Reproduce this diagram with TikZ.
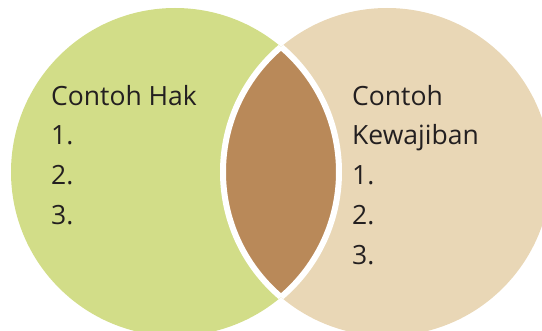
\documentclass[tikz,border=0pt]{standalone}
\usepackage{fontspec}
\setmainfont{Open Sans}
\usetikzlibrary{positioning}
\definecolor{hakgreen}{RGB}{210,221,136}
\definecolor{wajibtan}{RGB}{233,215,182}
\definecolor{lensbrown}{RGB}{185,137,89}
\definecolor{ink}{RGB}{35,31,32}

\begin{document}
\begin{tikzpicture}[
    x=1pt,y=-1pt,
    circ/.style={circle,minimum size=328pt,inner sep=0pt},
    txt/.style={anchor=base west,inner sep=0pt,text=ink,font=\fontsize{26.5}{40}\selectfont},
    border/.style={draw=white,line width=6pt}
    ]
    \useasboundingbox (0,0) rectangle (542,331);
    \clip (0,0) rectangle (542,331);
    \node [circ,fill=hakgreen] (hak) at (175,172) {};
    \node [circ,fill=wajibtan] (wajib) at (387,172) {};
    % the overlap, with a white rim
    \begin{scope}
      \clip (hak.center) circle [radius=164pt];
      \fill [lensbrown] (wajib.center) circle [radius=164pt];
      \draw [border] (wajib.center) circle [radius=164pt];
    \end{scope}
    \begin{scope}
      \clip (wajib.center) circle [radius=164pt];
      \draw [border] (hak.center) circle [radius=164pt];
    \end{scope}
    % left list
    \node [txt] (hakhead) at (51,106) {Contoh Hak};
    \foreach \i/\y in {1/145,2/185,3/225}
      \node [txt] (hak\i) at (51,\y) {\i.};
    % right list
    \node [txt] (wajibhead) at (352,106) {Contoh};
    \node [txt] (wajibhead2) at (352,145) {Kewajiban};
    \foreach \i/\y in {1/185,2/225,3/265}
      \node [txt] (wajib\i) at (352,\y) {\i.};
\end{tikzpicture}
\end{document}
